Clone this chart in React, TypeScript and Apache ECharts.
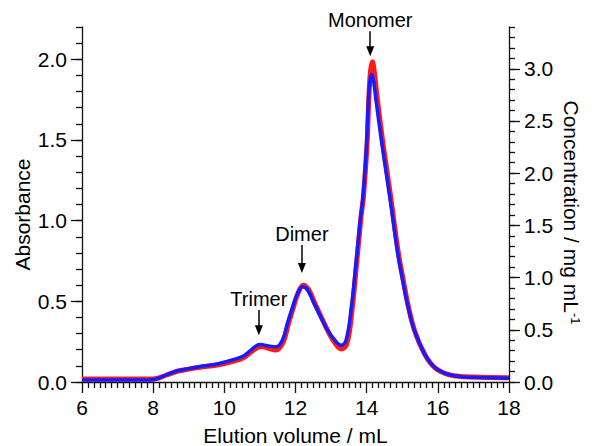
import React, { useEffect, useRef } from 'react';
import * as echarts from 'echarts';

// ---- data ----
const xTicks = [6, 8, 10, 12, 14, 16, 18];
const absTicks = [0, 0.5, 1.0, 1.5, 2.0];
const absMinorTicks = [0, 0.1, 0.2, 0.3, 0.4, 0.5, 0.6, 0.7, 0.8, 0.9, 1.0, 1.1, 1.2, 1.3, 1.4, 1.5, 1.6, 1.7, 1.8, 1.9, 2.0, 2.1, 2.2];
const concTicks = [0, 0.5, 1.0, 1.5, 2.0, 2.5, 3.0];
const concMinorTicks = [0, 0.1, 0.2, 0.3, 0.4, 0.5, 0.6, 0.7, 0.8, 0.9, 1.0, 1.1, 1.2, 1.3, 1.4, 1.5, 1.6, 1.7, 1.8, 1.9, 2.0, 2.1, 2.2, 2.3, 2.4, 2.5, 2.6, 2.7, 2.8, 2.9, 3.0, 3.1, 3.2, 3.3, 3.4];

// Absorbance trace (red), elution volume in mL
const redX = [6.0, 7.0, 7.9, 8.1, 8.4, 8.7, 9.0, 9.33, 9.8, 10.27, 10.55, 10.74, 10.92, 11.05, 11.2, 11.45, 11.65, 11.8, 11.95, 12.08, 12.22, 12.36, 12.54, 12.73, 12.92, 13.1, 13.28, 13.44, 13.58, 13.72, 13.84, 13.91, 14.01, 14.04, 14.07, 14.11, 14.16, 14.21, 14.28, 14.37, 14.47, 14.68, 14.89, 15.03, 15.17, 15.36, 15.64, 15.92, 16.3, 16.75, 17.22, 18.0];
const redAbs = [0.018, 0.018, 0.018, 0.022, 0.045, 0.068, 0.08, 0.092, 0.105, 0.13, 0.152, 0.185, 0.212, 0.22, 0.212, 0.198, 0.245, 0.36, 0.47, 0.555, 0.6, 0.575, 0.49, 0.4, 0.312, 0.245, 0.205, 0.235, 0.43, 0.74, 1.02, 1.15, 1.47, 1.63, 1.8, 1.93, 1.985, 1.93, 1.79, 1.63, 1.46, 1.14, 0.8, 0.63, 0.47, 0.31, 0.168, 0.088, 0.046, 0.033, 0.03, 0.026];

// Concentration trace (blue), mg/mL on the right axis
const blueX = [6.0, 7.0, 7.9, 8.1, 8.4, 8.7, 9.0, 9.33, 9.8, 10.27, 10.55, 10.74, 10.9, 11.02, 11.2, 11.45, 11.63, 11.77, 11.92, 12.06, 12.2, 12.34, 12.52, 12.71, 12.9, 13.09, 13.28, 13.42, 13.56, 13.7, 13.82, 13.89, 13.99, 14.02, 14.05, 14.09, 14.14, 14.19, 14.26, 14.35, 14.45, 14.66, 14.87, 15.01, 15.15, 15.34, 15.62, 15.9, 16.28, 16.75, 17.22, 18.0];
const blueConc = [0.019, 0.019, 0.02, 0.031, 0.074, 0.108, 0.128, 0.148, 0.173, 0.216, 0.252, 0.304, 0.348, 0.359, 0.348, 0.337, 0.4, 0.561, 0.72, 0.85, 0.913, 0.881, 0.753, 0.624, 0.496, 0.408, 0.352, 0.4, 0.689, 1.137, 1.553, 1.746, 2.226, 2.473, 2.705, 2.875, 2.944, 2.89, 2.705, 2.473, 2.226, 1.746, 1.236, 0.977, 0.737, 0.496, 0.274, 0.144, 0.074, 0.048, 0.042, 0.036];

// Peak annotations (absorbance units)
const annotationLabels = ['Trimer', 'Dimer', 'Monomer'];
const annotationX = [10.97, 12.18, 14.1];
const arrowTop = [0.446, 0.849, 2.174];
const arrowTip = [0.29, 0.675, 2.019];

const FONT = '"Liberation Sans", Arial, Helvetica, sans-serif';
const AXIS_COLOR = '#111111';

function zip(xs: number[], ys: number[]) {
  return xs.map((x, i) => [x, ys[i]]);
}

export default function App() {
  const ref = useRef<HTMLDivElement>(null);

  useEffect(() => {
    if (!ref.current) return;
    const chart = echarts.init(ref.current, null, { renderer: 'svg' });

    const lineStyle = { color: AXIS_COLOR, width: 1.3 };
    const labelStyle = { fontFamily: FONT, fontSize: 21, color: '#000' };
    const nameStyle = { fontFamily: FONT, fontSize: 21, color: '#000' };

    const option: any = {
      animation: false,
      backgroundColor: '#ffffff',
      grid: { left: 82, right: 90, top: 27, bottom: 64, containLabel: false, outerBoundsMode: 'none' },
      xAxis: [
        {
          type: 'value',
          min: xTicks[0],
          max: xTicks[xTicks.length - 1],
          interval: 2,
          name: 'Elution volume / mL',
          nameLocation: 'middle',
          nameGap: 43,
          nameMoveOverlap: false,
          nameTextStyle: nameStyle,
          axisLine: { show: true, onZero: false, lineStyle },
          axisTick: { show: true, length: 11, lineStyle },
          minorTick: { show: true, splitNumber: 12, length: 6, lineStyle },
          axisLabel: { ...labelStyle, margin: 15 },
          splitLine: { show: false },
          minorSplitLine: { show: false },
        },
      ],
      yAxis: [
        {
          type: 'value',
          position: 'left',
          min: 0,
          max: 2.2,
          interval: 0.5,
          name: 'Absorbance',
          nameLocation: 'middle',
          nameGap: 49,
          nameMoveOverlap: false,
          nameTextStyle: { ...nameStyle, padding: [0, 20, 0, 0] },
          axisLine: { show: true, onZero: false, lineStyle },
          axisTick: { show: true, length: 11, lineStyle, customValues: absTicks },
          axisLabel: {
            ...labelStyle,
            margin: 15,
            customValues: absTicks,
            formatter: (v: number) => v.toFixed(1),
          },
          splitLine: { show: false },
        },
        {
          type: 'value',
          position: 'left',
          min: 0,
          max: 2.2,
          axisLine: { show: false },
          axisTick: { show: true, length: 6, lineStyle, customValues: absMinorTicks },
          axisLabel: { show: false },
          splitLine: { show: false },
        },
        {
          type: 'value',
          position: 'right',
          min: 0,
          max: 3.4,
          interval: 0.5,
          name: 'Concentration / mg mL{sup|-1}',
          nameLocation: 'middle',
          nameRotate: -90,
          nameGap: 52,
          nameMoveOverlap: false,
          nameTextStyle: {
            ...nameStyle,
            padding: [0, 0, 0, 16],
            rich: {
              sup: { fontFamily: FONT, fontSize: 13, color: '#000', verticalAlign: 'top' },
            },
          },
          axisLine: { show: true, onZero: false, lineStyle },
          axisTick: { show: true, length: 11, lineStyle, customValues: concTicks },
          axisLabel: {
            ...labelStyle,
            margin: 15,
            customValues: concTicks,
            formatter: (v: number) => v.toFixed(1),
          },
          splitLine: { show: false },
        },
        {
          type: 'value',
          position: 'right',
          min: 0,
          max: 3.4,
          axisLine: { show: false },
          axisTick: { show: true, length: 6, lineStyle, customValues: concMinorTicks },
          axisLabel: { show: false },
          splitLine: { show: false },
        },
      ],
      series: [
        {
          name: 'Absorbance',
          type: 'line',
          xAxisIndex: 0,
          yAxisIndex: 0,
          data: zip(redX, redAbs),
          showSymbol: false,
          smooth: 0.4,
          lineStyle: { color: '#ff1a1a', width: 5 },
          itemStyle: { color: '#ff1a1a' },
          silent: true,
          markLine: {
            silent: true,
            symbol: ['none', 'triangle'],
            symbolSize: [8, 10],
            label: { show: false },
            lineStyle: { color: '#000', width: 1.5, type: 'solid' },
            data: annotationX.map((x, i) => [
              { coord: [x, arrowTop[i]] },
              { coord: [x, arrowTip[i] + 0.031] },
            ]),
          },
          markPoint: {
            silent: true,
            symbol: 'circle',
            symbolSize: 0,
            itemStyle: { color: 'transparent' },
            label: {
              show: true,
              position: 'top',
              distance: 1,
              fontFamily: FONT,
              fontSize: 20,
              color: '#000',
              formatter: (p: any) => p.name,
            },
            data: annotationX.map((x, i) => ({
              name: annotationLabels[i],
              coord: [x, arrowTop[i]],
            })),
          },
        },
        {
          name: 'Concentration',
          type: 'line',
          xAxisIndex: 0,
          yAxisIndex: 2,
          data: zip(blueX, blueConc),
          showSymbol: false,
          smooth: 0.4,
          lineStyle: { color: '#1a1aff', width: 3.5 },
          itemStyle: { color: '#1a1aff' },
          silent: true,
        },
      ],
    };

    chart.setOption(option);
    return () => {
      chart.dispose();
    };
  }, []);

  return (
    <div
      ref={ref}
      style={{ position: 'fixed', left: 0, top: 0, width: 599, height: 446, background: '#fff' }}
    />
  );
}
